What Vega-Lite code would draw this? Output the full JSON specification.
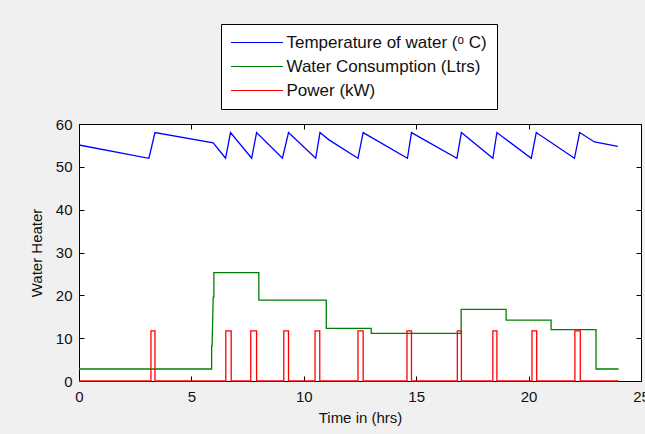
{
  "$schema": "https://vega.github.io/schema/vega-lite/v6.json",
  "width": 562,
  "height": 257,
  "autosize": {"type": "none"},
  "padding": {"left": 79, "top": 124, "right": 4, "bottom": 53},
  "background": "#f0f0f0",
  "config": {
    "view": {"fill": "white", "stroke": "black", "strokeWidth": 1},
    "font": "Liberation Sans",
    "axis": {
      "domainColor": "black",
      "tickColor": "black",
      "tickSize": -5,
      "grid": false,
      "labelFlush": false,
      "labelOverlap": false,
      "labelFont": "Liberation Sans",
      "labelFontSize": 15,
      "labelColor": "#111",
      "titleFont": "Liberation Sans",
      "titleFontSize": 15,
      "titleFontWeight": "normal",
      "titleColor": "#111"
    },
    "legend": {
      "strokeColor": "black",
      "fillColor": "white",
      "padding": 10,
      "labelFont": "Liberation Sans",
      "labelFontSize": 17,
      "labelColor": "#111",
      "labelLimit": 400,
      "symbolType": "M-5.2,0H5.2",
      "symbolSize": 100,
      "symbolStrokeWidth": 1,
      "symbolOffset": 17.5,
      "labelOffset": 21,
      "rowPadding": 6
    }
  },
  "data": {
    "values": [
      {"s": "Temperature of water (ᵒ C)", "i": 1, "t": 0, "v": 55.1},
      {"s": "Temperature of water (ᵒ C)", "i": 2, "t": 3.11, "v": 52},
      {"s": "Temperature of water (ᵒ C)", "i": 3, "t": 3.38, "v": 58},
      {"s": "Temperature of water (ᵒ C)", "i": 4, "t": 5.97, "v": 55.6},
      {"s": "Temperature of water (ᵒ C)", "i": 5, "t": 6.52, "v": 52},
      {"s": "Temperature of water (ᵒ C)", "i": 6, "t": 6.74, "v": 58},
      {"s": "Temperature of water (ᵒ C)", "i": 7, "t": 7.68, "v": 52},
      {"s": "Temperature of water (ᵒ C)", "i": 8, "t": 7.9, "v": 58},
      {"s": "Temperature of water (ᵒ C)", "i": 9, "t": 9.05, "v": 52},
      {"s": "Temperature of water (ᵒ C)", "i": 10, "t": 9.32, "v": 58},
      {"s": "Temperature of water (ᵒ C)", "i": 11, "t": 10.53, "v": 52},
      {"s": "Temperature of water (ᵒ C)", "i": 12, "t": 10.72, "v": 58},
      {"s": "Temperature of water (ᵒ C)", "i": 13, "t": 11.12, "v": 56.3},
      {"s": "Temperature of water (ᵒ C)", "i": 14, "t": 12.41, "v": 52},
      {"s": "Temperature of water (ᵒ C)", "i": 15, "t": 12.64, "v": 58},
      {"s": "Temperature of water (ᵒ C)", "i": 16, "t": 14.61, "v": 52},
      {"s": "Temperature of water (ᵒ C)", "i": 17, "t": 14.79, "v": 58},
      {"s": "Temperature of water (ᵒ C)", "i": 18, "t": 16.81, "v": 52},
      {"s": "Temperature of water (ᵒ C)", "i": 19, "t": 17.01, "v": 58},
      {"s": "Temperature of water (ᵒ C)", "i": 20, "t": 18.41, "v": 52},
      {"s": "Temperature of water (ᵒ C)", "i": 21, "t": 18.59, "v": 58},
      {"s": "Temperature of water (ᵒ C)", "i": 22, "t": 20.12, "v": 52},
      {"s": "Temperature of water (ᵒ C)", "i": 23, "t": 20.34, "v": 58},
      {"s": "Temperature of water (ᵒ C)", "i": 24, "t": 22.04, "v": 52},
      {"s": "Temperature of water (ᵒ C)", "i": 25, "t": 22.27, "v": 58},
      {"s": "Temperature of water (ᵒ C)", "i": 26, "t": 22.93, "v": 55.8},
      {"s": "Temperature of water (ᵒ C)", "i": 27, "t": 23.16, "v": 55.6},
      {"s": "Temperature of water (ᵒ C)", "i": 28, "t": 23.97, "v": 54.8},

      {"s": "Water Consumption (Ltrs)", "i": 1, "t": 0, "v": 2.8},
      {"s": "Water Consumption (Ltrs)", "i": 2, "t": 5.9, "v": 2.8},
      {"s": "Water Consumption (Ltrs)", "i": 3, "t": 5.9, "v": 8.2},
      {"s": "Water Consumption (Ltrs)", "i": 4, "t": 5.92, "v": 8.2},
      {"s": "Water Consumption (Ltrs)", "i": 5, "t": 5.97, "v": 19.6},
      {"s": "Water Consumption (Ltrs)", "i": 6, "t": 6.0, "v": 19.6},
      {"s": "Water Consumption (Ltrs)", "i": 7, "t": 6.0, "v": 25.3},
      {"s": "Water Consumption (Ltrs)", "i": 8, "t": 8.0, "v": 25.3},
      {"s": "Water Consumption (Ltrs)", "i": 9, "t": 8.0, "v": 18.9},
      {"s": "Water Consumption (Ltrs)", "i": 10, "t": 11.0, "v": 18.9},
      {"s": "Water Consumption (Ltrs)", "i": 11, "t": 11.0, "v": 12.3},
      {"s": "Water Consumption (Ltrs)", "i": 12, "t": 13.0, "v": 12.3},
      {"s": "Water Consumption (Ltrs)", "i": 13, "t": 13.0, "v": 11.1},
      {"s": "Water Consumption (Ltrs)", "i": 14, "t": 17.0, "v": 11.1},
      {"s": "Water Consumption (Ltrs)", "i": 15, "t": 17.0, "v": 16.7},
      {"s": "Water Consumption (Ltrs)", "i": 16, "t": 19.0, "v": 16.7},
      {"s": "Water Consumption (Ltrs)", "i": 17, "t": 19.0, "v": 14.2},
      {"s": "Water Consumption (Ltrs)", "i": 18, "t": 21.0, "v": 14.2},
      {"s": "Water Consumption (Ltrs)", "i": 19, "t": 21.0, "v": 12.0},
      {"s": "Water Consumption (Ltrs)", "i": 20, "t": 23.0, "v": 12.0},
      {"s": "Water Consumption (Ltrs)", "i": 21, "t": 23.0, "v": 2.8},
      {"s": "Water Consumption (Ltrs)", "i": 22, "t": 24.0, "v": 2.8},

      {"s": "Power (kW)", "i": 1, "t": 0, "v": 0},
      {"s": "Power (kW)", "i": 2, "t": 3.2, "v": 0},
      {"s": "Power (kW)", "i": 3, "t": 3.2, "v": 11.7},
      {"s": "Power (kW)", "i": 4, "t": 3.38, "v": 11.7},
      {"s": "Power (kW)", "i": 5, "t": 3.38, "v": 0},
      {"s": "Power (kW)", "i": 6, "t": 6.53, "v": 0},
      {"s": "Power (kW)", "i": 7, "t": 6.53, "v": 11.7},
      {"s": "Power (kW)", "i": 8, "t": 6.77, "v": 11.7},
      {"s": "Power (kW)", "i": 9, "t": 6.77, "v": 0},
      {"s": "Power (kW)", "i": 10, "t": 7.64, "v": 0},
      {"s": "Power (kW)", "i": 11, "t": 7.64, "v": 11.7},
      {"s": "Power (kW)", "i": 12, "t": 7.9, "v": 11.7},
      {"s": "Power (kW)", "i": 13, "t": 7.9, "v": 0},
      {"s": "Power (kW)", "i": 14, "t": 9.11, "v": 0},
      {"s": "Power (kW)", "i": 15, "t": 9.11, "v": 11.7},
      {"s": "Power (kW)", "i": 16, "t": 9.32, "v": 11.7},
      {"s": "Power (kW)", "i": 17, "t": 9.32, "v": 0},
      {"s": "Power (kW)", "i": 18, "t": 10.5, "v": 0},
      {"s": "Power (kW)", "i": 19, "t": 10.5, "v": 11.7},
      {"s": "Power (kW)", "i": 20, "t": 10.71, "v": 11.7},
      {"s": "Power (kW)", "i": 21, "t": 10.71, "v": 0},
      {"s": "Power (kW)", "i": 22, "t": 12.41, "v": 0},
      {"s": "Power (kW)", "i": 23, "t": 12.41, "v": 11.7},
      {"s": "Power (kW)", "i": 24, "t": 12.64, "v": 11.7},
      {"s": "Power (kW)", "i": 25, "t": 12.64, "v": 0},
      {"s": "Power (kW)", "i": 26, "t": 14.59, "v": 0},
      {"s": "Power (kW)", "i": 27, "t": 14.59, "v": 11.7},
      {"s": "Power (kW)", "i": 28, "t": 14.79, "v": 11.7},
      {"s": "Power (kW)", "i": 29, "t": 14.79, "v": 0},
      {"s": "Power (kW)", "i": 30, "t": 16.83, "v": 0},
      {"s": "Power (kW)", "i": 31, "t": 16.83, "v": 11.7},
      {"s": "Power (kW)", "i": 32, "t": 17.01, "v": 11.7},
      {"s": "Power (kW)", "i": 33, "t": 17.01, "v": 0},
      {"s": "Power (kW)", "i": 34, "t": 18.41, "v": 0},
      {"s": "Power (kW)", "i": 35, "t": 18.41, "v": 11.7},
      {"s": "Power (kW)", "i": 36, "t": 18.59, "v": 11.7},
      {"s": "Power (kW)", "i": 37, "t": 18.59, "v": 0},
      {"s": "Power (kW)", "i": 38, "t": 20.15, "v": 0},
      {"s": "Power (kW)", "i": 39, "t": 20.15, "v": 11.7},
      {"s": "Power (kW)", "i": 40, "t": 20.36, "v": 11.7},
      {"s": "Power (kW)", "i": 41, "t": 20.36, "v": 0},
      {"s": "Power (kW)", "i": 42, "t": 22.06, "v": 0},
      {"s": "Power (kW)", "i": 43, "t": 22.06, "v": 11.7},
      {"s": "Power (kW)", "i": 44, "t": 22.3, "v": 11.7},
      {"s": "Power (kW)", "i": 45, "t": 22.3, "v": 0},
      {"s": "Power (kW)", "i": 46, "t": 24.0, "v": 0}
    ]
  },
  "layer": [
    {
      "mark": {"type": "line", "strokeWidth": 1.3, "clip": false},
      "encoding": {
        "x": {"field": "t", "type": "quantitative", "scale": {"domain": [0, 25], "nice": false, "zero": false},
              "axis": {"values": [0, 5, 10, 15, 20, 25], "title": "Time in (hrs)", "labelPadding": 13, "titlePadding": 6}},
        "y": {"field": "v", "type": "quantitative", "scale": {"domain": [0, 60], "nice": false},
              "axis": {"values": [0, 10, 20, 30, 40, 50, 60], "title": "Water Heater", "labelPadding": 12, "titlePadding": 11}},
        "color": {"field": "s", "type": "nominal",
                  "scale": {"domain": ["Temperature of water (ᵒ C)", "Water Consumption (Ltrs)", "Power (kW)"], "range": ["#0000ff", "#008000", "#ff0000"]},
                  "legend": {"title": null, "orient": "none", "legendX": 142, "legendY": -100}},
        "detail": {"field": "s"},
        "order": {"field": "i", "type": "quantitative"}
      }
    },
    {
      "mark": {"type": "point", "opacity": 0},
      "encoding": {
        "x": {"field": "t", "type": "quantitative", "scale": {"domain": [0, 25], "nice": false, "zero": false},
              "axis": {"orient": "top", "values": [0, 5, 10, 15, 20, 25], "labels": false, "title": null}},
        "y": {"field": "v", "type": "quantitative", "scale": {"domain": [0, 60], "nice": false},
              "axis": {"orient": "right", "values": [0, 10, 20, 30, 40, 50, 60], "labels": false, "title": null}}
      }
    }
  ],
  "resolve": {"axis": {"x": "independent", "y": "independent"}}
}
